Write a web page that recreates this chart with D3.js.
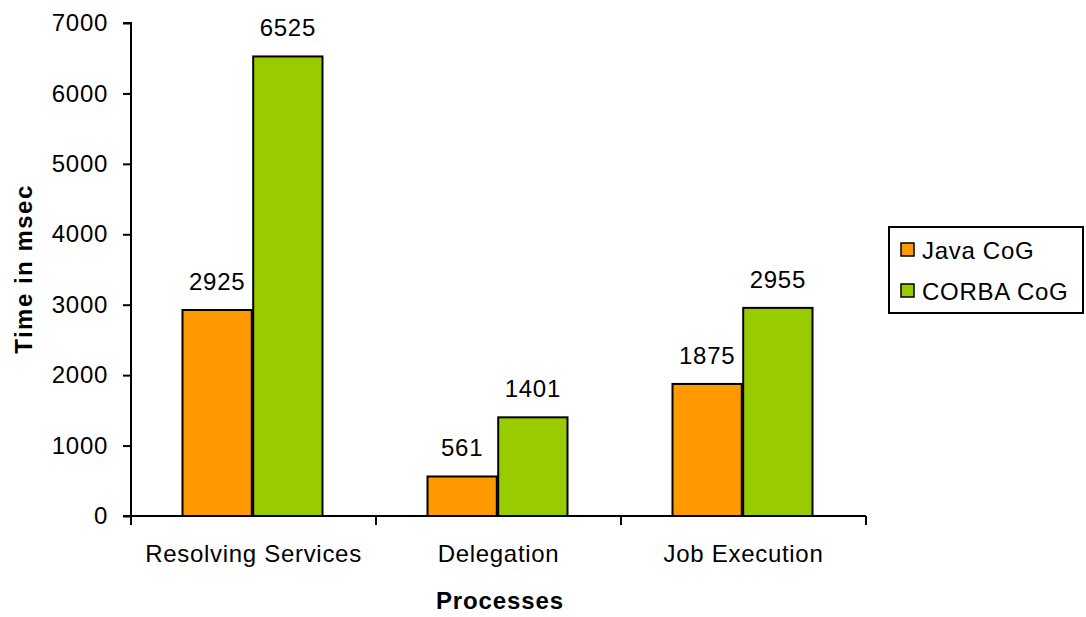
<!DOCTYPE html>
<html>
<head>
<meta charset="utf-8">
<script src="https://cdn.jsdelivr.net/npm/d3@7"></script>
<style>
  body { margin: 0; background: #fff; }
  text { font-family: "Liberation Sans", Arial, sans-serif; fill: #000; }
</style>
</head>
<body>
<svg id="chart" width="1086" height="617"></svg>
<script>
const categories = ["Resolving Services", "Delegation", "Job Execution"];
const seriesNames = ["Java CoG", "CORBA CoG"];
const javaCoG = [2925, 561, 1875];
const corbaCoG = [6525, 1401, 2955];
const yTicks = [0, 1000, 2000, 3000, 4000, 5000, 6000, 7000];
const colors = ["#FF9900", "#99CC00"];

const svg = d3.select("#chart");
const plot = { left: 131, right: 866, top: 23, bottom: 516 };
const fs = "24px", ls = "0.7px";

const x = d3.scaleBand()
    .domain(categories)
    .range([plot.left, plot.right]);

// the two bars sit in the middle of each category, almost touching
const xInner = d3.scaleBand()
    .domain(seriesNames)
    .range([51.5, 191.5])
    .paddingInner(0.02);

const y = d3.scaleLinear().domain([0, 7000]).range([plot.bottom, plot.top]);

// bars
const rows = categories.map((c, i) => ({ cat: c, vals: [javaCoG[i], corbaCoG[i]] }));

const groups = svg.selectAll(".grp")
    .data(rows)
    .enter()
    .append("g")
    .attr("class", "grp")
    .attr("transform", d => `translate(${x(d.cat)},0)`);

groups.selectAll("rect")
    .data(d => d.vals.map((v, j) => ({ v, s: seriesNames[j], j })))
    .enter()
    .append("rect")
    .attr("x", d => xInner(d.s))
    .attr("y", d => y(d.v))
    .attr("width", xInner.bandwidth())
    .attr("height", d => y(0) - y(d.v))
    .attr("fill", d => colors[d.j])
    .attr("stroke", "#000")
    .attr("stroke-width", 2);

groups.selectAll(".lbl")
    .data(d => d.vals.map((v, j) => ({ v, s: seriesNames[j] })))
    .enter()
    .append("text")
    .attr("class", "lbl")
    .attr("x", d => xInner(d.s) + xInner.bandwidth() / 2)
    .attr("y", d => y(d.v) - 20)
    .attr("text-anchor", "middle")
    .style("font-size", fs).style("letter-spacing", ls)
    .text(d => d.v);

// y axis
const yAxis = svg.append("g")
    .attr("transform", `translate(${plot.left},0)`)
    .call(d3.axisLeft(y).tickValues(yTicks).tickSize(8).tickPadding(15).tickFormat(d3.format("d")));
yAxis.select(".domain").attr("stroke", "#000").attr("stroke-width", 2).attr("d", `M-8,${plot.top}H0V${plot.bottom}`);
yAxis.selectAll(".tick line").attr("stroke", "#000").attr("stroke-width", 2);
yAxis.selectAll(".tick text").attr("font-family", null).attr("font-size", null)
    .style("font-size", fs).style("letter-spacing", ls);

// x axis
svg.append("line")
    .attr("x1", plot.left - 8).attr("x2", plot.right)
    .attr("y1", plot.bottom).attr("y2", plot.bottom)
    .attr("stroke", "#000").attr("stroke-width", 2);

const dividers = [plot.left].concat(categories.map(c => x(c) + x.bandwidth()));
svg.selectAll(".xdiv")
    .data(dividers)
    .enter()
    .append("line")
    .attr("x1", d => d).attr("x2", d => d)
    .attr("y1", plot.bottom).attr("y2", plot.bottom + 9)
    .attr("stroke", "#000").attr("stroke-width", 2);

svg.selectAll(".xlbl")
    .data(categories)
    .enter()
    .append("text")
    .attr("x", d => x(d) + x.bandwidth() / 2)
    .attr("y", 562)
    .attr("text-anchor", "middle")
    .style("font-size", fs).style("letter-spacing", ls)
    .text(d => d);

// axis titles
svg.append("text")
    .attr("x", 500).attr("y", 609)
    .attr("text-anchor", "middle")
    .style("font-size", "24px").style("font-weight", "bold").style("letter-spacing", "0.9px")
    .text("Processes");

svg.append("text")
    .attr("transform", "translate(32,269) rotate(-90)")
    .attr("text-anchor", "middle")
    .style("font-size", "24px").style("font-weight", "bold").style("letter-spacing", "1.5px")
    .text("Time in msec");

// legend
const legend = svg.append("g").attr("transform", "translate(889,227)");
legend.append("rect")
    .attr("width", 194).attr("height", 86)
    .attr("fill", "#fff").attr("stroke", "#000").attr("stroke-width", 2);

const items = legend.selectAll(".item")
    .data(seriesNames)
    .enter()
    .append("g")
    .attr("transform", (d, i) => `translate(0,${23 + i * 41})`);

items.append("rect")
    .attr("x", 12).attr("y", -7)
    .attr("width", 13).attr("height", 13)
    .attr("fill", (d, i) => colors[i])
    .attr("stroke", "#000").attr("stroke-width", 1.5);

items.append("text")
    .attr("x", 33).attr("y", 9)
    .style("font-size", fs).style("letter-spacing", ls)
    .text(d => d);
</script>
</body>
</html>
